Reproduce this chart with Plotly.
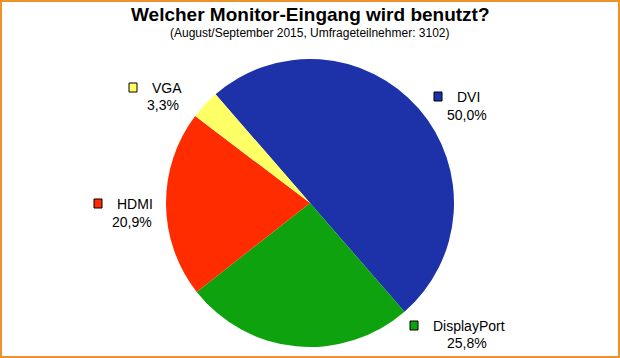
import plotly.graph_objects as go

# ---- data ----
labels = ["DVI", "DisplayPort", "HDMI", "VGA"]
values = [50.0, 25.8, 20.9, 3.3]
colors = ["#1d31a8", "#0ea20e", "#ff2c00", "#ffff66"]
title_text = "Welcher Monitor-Eingang wird benutzt?"
subtitle_text = "(August/September 2015, Umfrageteilnehmer: 3102)"

# ---- layout config (pixel positions of outside labels) ----
W, H = 620, 358
label_layout = {
    # name-left-x, name-center-y, percent-center-x, percent-center-y
    "DVI": (455, 97, 467, 115),
    "DisplayPort": (431, 326, 467, 343),
    "HDMI": (115, 204, 132, 222),
    "VGA": (150, 88, 163, 105),
}
cx, cy, r = 310, 203, 144


def px(x):
    return x / W


def py(y):
    return 1 - y / H


fig = go.Figure(go.Pie(
    labels=labels, values=values, sort=False, direction="clockwise",
    rotation=-41, textinfo="none", hoverinfo="label+percent",
    marker=dict(colors=colors, line=dict(width=0)),
    domain=dict(x=[px(cx - r), px(cx + r)], y=[py(cy + r), py(cy - r)]),
    showlegend=False,
))

annotations = [
    dict(text="<b>" + title_text + "</b>", x=0.5, y=py(14), xref="paper", yref="paper",
         showarrow=False, font=dict(size=19, family="Liberation Sans, Arial", color="black"),
         xanchor="center", yanchor="middle"),
    dict(text=subtitle_text, x=0.5, y=py(33), xref="paper", yref="paper",
         showarrow=False, font=dict(size=12, family="Liberation Sans, Arial", color="black"),
         xanchor="center", yanchor="middle"),
]
shapes = []
for lab, val, col in zip(labels, values, colors):
    nx, ny, pxx, pyy = label_layout[lab]
    annotations.append(dict(text=lab, x=px(nx), y=py(ny), xref="paper", yref="paper",
                            showarrow=False, xanchor="left", yanchor="middle",
                            font=dict(size=14, family="Liberation Sans, Arial", color="black")))
    annotations.append(dict(text=f"{val:.1f}".replace(".", ",") + "%", x=px(pxx), y=py(pyy),
                            xref="paper", yref="paper", showarrow=False,
                            xanchor="center", yanchor="middle",
                            font=dict(size=14, family="Liberation Sans, Arial", color="black")))
    shapes.append(dict(type="rect", xref="paper", yref="paper",
                       x0=px(nx - 21), x1=px(nx - 13), y0=py(ny + 4), y1=py(ny - 5),
                       line=dict(color="black", width=1), fillcolor=col))

shapes.append(dict(type="rect", xref="paper", yref="paper",
                   x0=px(1), x1=px(619), y0=py(357), y1=py(1),
                   line=dict(color="#f0922b", width=2), fillcolor="rgba(0,0,0,0)"))

fig.update_layout(
    width=W, height=H, margin=dict(l=0, r=0, t=0, b=0),
    paper_bgcolor="white", plot_bgcolor="white",
    annotations=annotations, shapes=shapes,
)
fig.write_html("out.html", config={"displayModeBar": False},
               post_script="document.body.style.margin='0';document.body.style.overflow='hidden';")
